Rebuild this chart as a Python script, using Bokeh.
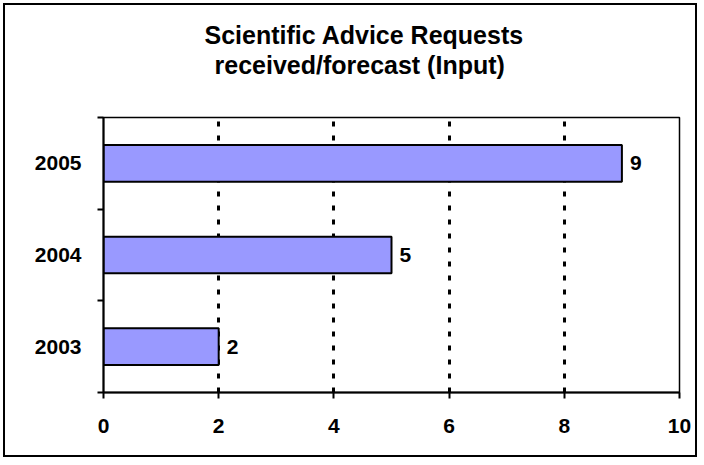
from bokeh.plotting import figure
from bokeh.models import Range1d, FixedTicker, ColumnDataSource, Title
from bokeh.core.properties import value
from bokeh.embed import file_html
from bokeh.resources import INLINE

# data
years = ["2003", "2004", "2005"]
requests = [2, 5, 9]
x_ticks = [0, 2, 4, 6, 8, 10]
title_lines = ["Scientific Advice Requests", "received/forecast (Input)"]

FONT = "Liberation Sans"

ypos = [i + 0.5 for i in range(len(years))]
src = ColumnDataSource(dict(y=ypos, v=requests, lbl=[str(v) for v in requests]))

p = figure(width=694, height=454, output_backend="svg", toolbar_location=None,
           x_range=Range1d(0, 10), y_range=Range1d(0, len(years)),
           min_border_left=98, min_border_right=20, min_border_top=112, min_border_bottom=67)
p.styles = {"border": "2px solid black", "margin": "3px"}
p.background_fill_color = "white"
p.border_fill_color = "white"
p.outline_line_color = "black"
p.outline_line_width = 1.5

p.hbar(y="y", right="v", left=0, height=0.4, source=src,
       fill_color="#9999FF", line_color="black", line_width=2)
p.text(x="v", y="y", text="lbl", source=src, x_offset=8,
       text_align="left", text_baseline="middle",
       text_font=value(FONT), text_font_style="bold", text_font_size="21px",
       text_color="black")

# x axis
xa = p.xaxis[0]
xa.ticker = FixedTicker(ticks=x_ticks)
xa.axis_line_color = "black"
xa.axis_line_width = 2
xa.major_tick_line_color = "black"
xa.major_tick_line_width = 2
xa.major_tick_in = 0
xa.major_tick_out = 6
xa.minor_tick_line_color = None
xa.major_label_text_font = FONT
xa.major_label_text_font_style = "bold"
xa.major_label_text_font_size = "21px"
xa.major_label_text_color = "black"
xa.major_label_standoff = 20

# y axis
ya = p.yaxis[0]
ya.ticker = FixedTicker(ticks=ypos, minor_ticks=list(range(len(years) + 1)))
ya.major_label_overrides = {y: lab for y, lab in zip(ypos, years)}
ya.axis_line_color = "black"
ya.axis_line_width = 2
ya.major_tick_line_color = None
ya.major_tick_in = 0
ya.major_tick_out = 0
ya.minor_tick_line_color = "black"
ya.minor_tick_line_width = 2
ya.minor_tick_in = 0
ya.minor_tick_out = 6
ya.major_label_text_font = FONT
ya.major_label_text_font_style = "bold"
ya.major_label_text_font_size = "21px"
ya.major_label_text_color = "black"
ya.major_label_standoff = 16

p.xgrid.ticker = FixedTicker(ticks=x_ticks)
p.xgrid.grid_line_color = "black"
p.xgrid.grid_line_width = 3
p.xgrid.grid_line_dash = "5 9"
p.ygrid.grid_line_color = None

has_standoff = "standoff" in Title.properties()

def style_title(t, offset, standoff):
    t.align = "left"
    t.offset = offset
    t.text_font = FONT
    t.text_font_style = "bold"
    t.text_font_size = "25px"
    t.text_color = "black"
    if has_standoff:
        t.standoff = standoff

# outermost line: built-in title
style_title(p.title, 101, 0)
p.title.text = title_lines[0]

# spacer between the title block and the plot frame (closest to frame)
spacer = Title(text=" ")
style_title(spacer, 0, 9)
p.add_layout(spacer, "above")

# second title line
t2 = Title(text=title_lines[1])
style_title(t2, 111, 0)
p.add_layout(t2, "above")

open("out.html", "w").write(file_html(p, INLINE))
